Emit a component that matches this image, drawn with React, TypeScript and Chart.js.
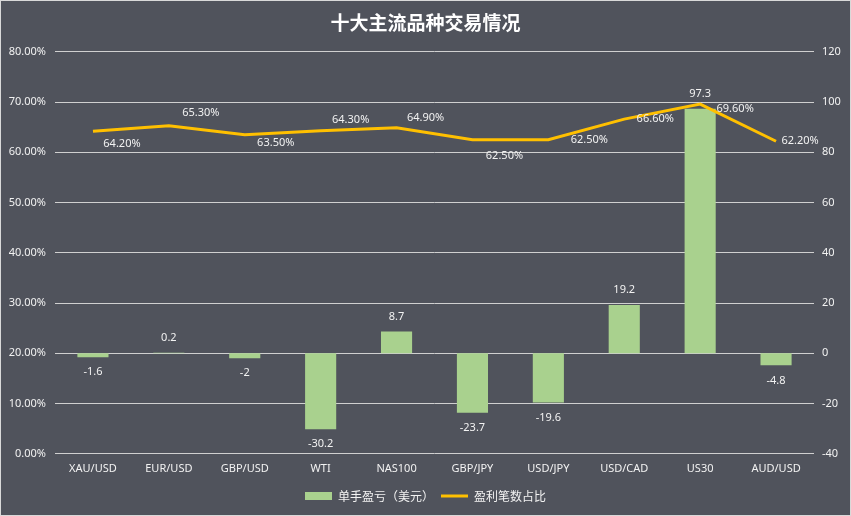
import React, { useEffect, useRef } from "react";
import { Chart, registerables } from "chart.js";

Chart.register(...registerables);

const categories = ["XAU/USD", "EUR/USD", "GBP/USD", "WTI", "NAS100", "GBP/JPY", "USD/JPY", "USD/CAD", "US30", "AUD/USD"];
const profitPerLot = [-1.6, 0.2, -2, -30.2, 8.7, -23.7, -19.6, 19.2, 97.3, -4.8];
const winRate = [64.2, 65.3, 63.5, 64.3, 64.9, 62.5, 62.5, 66.6, 69.6, 62.2];
const barLabel = "单手盈亏（美元）";
const lineLabel = "盈利笔数占比";
const titleText = "十大主流品种交易情况";

const BG = "#50535c";
const GREEN = "#a9d18e";
const GOLD = "#ffc000";
const TEXT = "#f2f2f2";
const GRID = "#d0d0d0";
const FONT = '"Noto Sans", "Noto Sans CJK SC", sans-serif';

// label placement for the line's value labels (dx, dy from point, centered text)
const lineLabelOffsets: [number, number][] = [
  [29, 13], [32, -13], [31, 8], [30, -11], [29, -10],
  [32, 16], [41, 0], [31, 0], [35, 5], [24, 0],
];

export default function App() {
  const ref = useRef<HTMLCanvasElement | null>(null);

  useEffect(() => {
    document.body.style.margin = "0";
    if (!ref.current) return;

    const bgPlugin = {
      id: "bg",
      beforeDraw(chart: any) {
        const { ctx, width, height } = chart;
        ctx.save();
        ctx.fillStyle = BG;
        ctx.fillRect(0, 0, width, height);
        ctx.strokeStyle = "#d9d9d9";
        ctx.lineWidth = 1;
        ctx.strokeRect(0.5, 0.5, width - 1, height - 1);
        ctx.restore();
      },
    };

    const labelPlugin = {
      id: "valueLabels",
      afterDatasetsDraw(chart: any) {
        const { ctx } = chart;
        ctx.save();
        ctx.font = `11px ${FONT}`;
        ctx.fillStyle = TEXT;
        ctx.textAlign = "center";
        ctx.textBaseline = "middle";
        const barMeta = chart.getDatasetMeta(0);
        barMeta.data.forEach((el: any, i: number) => {
          const v = profitPerLot[i];
          const y = v >= 0 ? el.y - 15 : el.y + 15;
          ctx.fillText(String(v), el.x, y);
        });
        const lineMeta = chart.getDatasetMeta(1);
        lineMeta.data.forEach((el: any, i: number) => {
          const [dx, dy] = lineLabelOffsets[i];
          ctx.fillText(winRate[i].toFixed(2) + "%", el.x + dx, el.y + dy);
        });
        ctx.restore();
      },
    };

    const chart = new Chart(ref.current, {
      type: "bar",
      data: {
        labels: categories,
        datasets: [
          {
            type: "bar",
            label: barLabel,
            data: profitPerLot,
            yAxisID: "y1",
            backgroundColor: GREEN,
            borderWidth: 0,
            categoryPercentage: 1,
            barPercentage: 0.41,
            order: 1,
          },
          {
            type: "line",
            label: lineLabel,
            data: winRate,
            yAxisID: "y",
            borderColor: GOLD,
            backgroundColor: GOLD,
            borderWidth: 3,
            pointRadius: 0,
            tension: 0,
            order: 0,
          },
        ] as any,
      },
      options: {
        animation: false,
        responsive: false,
        maintainAspectRatio: false,
        devicePixelRatio: 1,
        layout: { padding: { left: 0, right: 0, top: 0, bottom: 4 } },
        plugins: {
          tooltip: { enabled: false },
          title: {
            display: true,
            text: titleText,
            color: "#ffffff",
            font: { family: '"Noto Sans CJK SC", sans-serif', size: 19, weight: "bold" },
            padding: { top: 11, bottom: 18 },
          },
          legend: {
            position: "bottom",
            labels: {
              color: TEXT,
              font: { family: '"Noto Sans CJK SC", sans-serif', size: 12 },
              usePointStyle: true,
              pointStyleWidth: 27,
              boxHeight: 8,
              padding: 7,
              sort: (a: any, b: any) => a.datasetIndex - b.datasetIndex,
              generateLabels: (c: any) => {
                const items = (Chart.defaults.plugins.legend.labels as any).generateLabels(c);
                return items.map((it: any) => {
                  const isBar = it.datasetIndex === 0;
                  return {
                    ...it,
                    pointStyle: isBar ? "rect" : "line",
                    fillStyle: isBar ? GREEN : GOLD,
                    strokeStyle: isBar ? GREEN : GOLD,
                    lineWidth: isBar ? 0 : 3,
                    fontColor: TEXT,
                  };
                });
              },
            },
          },
        },
        scales: {
          x: {
            offset: true,
            grid: { display: false, drawTicks: false },
            border: { display: false },
            ticks: { color: TEXT, font: { family: FONT, size: 11 }, padding: 8, maxRotation: 0, autoSkip: false },
          },
          y: {
            position: "left",
            min: 0,
            max: 80,
            grid: { color: GRID, drawTicks: false, lineWidth: 1 },
            border: { display: false },
            ticks: {
              stepSize: 10,
              color: TEXT,
              font: { family: FONT, size: 11 },
              padding: 9,
              callback: (v: any) => Number(v).toFixed(2) + "%",
            },
            afterFit: (s: any) => { s.width = 55; },
          },
          y1: {
            position: "right",
            min: -40,
            max: 120,
            grid: { display: false, drawTicks: false },
            border: { display: false },
            ticks: { stepSize: 20, color: TEXT, font: { family: FONT, size: 11 }, padding: 8 },
            afterFit: (s: any) => { s.width = 37; },
          },
        },
      } as any,
      plugins: [bgPlugin, labelPlugin],
    });

    return () => chart.destroy();
  }, []);

  return (
    <div style={{ width: 851, height: 516 }}>
      <canvas ref={ref} width={851} height={516} style={{ display: "block", width: 851, height: 516 }} />
    </div>
  );
}
